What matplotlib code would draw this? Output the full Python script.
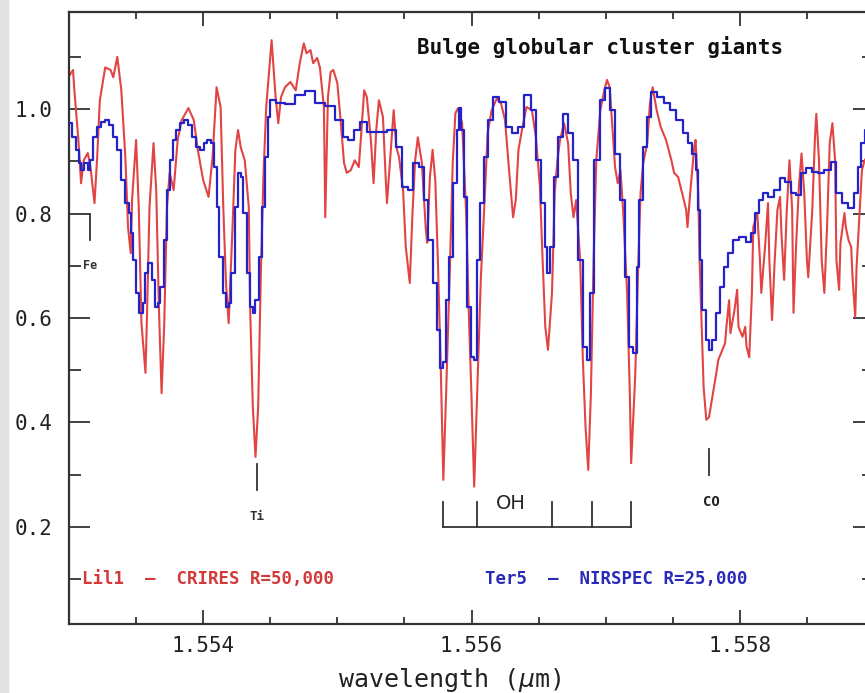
import matplotlib
matplotlib.use("Agg")
import matplotlib.pyplot as plt
from matplotlib.ticker import MultipleLocator, FormatStrFormatter
from matplotlib.patches import Rectangle

# Lil1 - CRIRES spectrum
red_wl = [1.55300, 1.55303, 1.55304, 1.55307, 1.55309, 1.55311, 1.55314, 1.55316, 1.55319, 1.55321,
          1.55323, 1.55327, 1.55331, 1.55333, 1.55336, 1.55339, 1.55342, 1.55344, 1.55346, 1.55347,
          1.55350, 1.55352, 1.55354, 1.55357, 1.55358, 1.55360, 1.55363, 1.55365, 1.55367, 1.55369,
          1.55371, 1.55373, 1.55375, 1.55378, 1.55381, 1.55384, 1.55389, 1.55393, 1.55396, 1.55400,
          1.55404, 1.55407, 1.55410, 1.55413, 1.55415, 1.55417, 1.55419, 1.55422, 1.55424, 1.55426,
          1.55428, 1.55431, 1.55434, 1.55435, 1.55437, 1.55439, 1.55441, 1.55443, 1.55445, 1.55447,
          1.55451, 1.55454, 1.55456, 1.55458, 1.55461, 1.55465, 1.55469, 1.55472, 1.55475, 1.55477,
          1.55480, 1.55482, 1.55485, 1.55487, 1.55490, 1.55491, 1.55493, 1.55495, 1.55497, 1.55500,
          1.55502, 1.55505, 1.55507, 1.55510, 1.55513, 1.55516, 1.55518, 1.55520, 1.55522, 1.55525,
          1.55527, 1.55529, 1.55531, 1.55534, 1.55536, 1.55537, 1.55540, 1.55542, 1.55544, 1.55546,
          1.55549, 1.55551, 1.55554, 1.55556, 1.55558, 1.55560, 1.55563, 1.55566, 1.55567, 1.55569,
          1.55571, 1.55573, 1.55575, 1.55577, 1.55579, 1.55581, 1.55584, 1.55586, 1.55588, 1.55590,
          1.55593, 1.55596, 1.55598, 1.55600, 1.55602, 1.55605, 1.55607, 1.55610, 1.55612, 1.55615,
          1.55619, 1.55622, 1.55625, 1.55628, 1.55631, 1.55633, 1.55635, 1.55638, 1.55641, 1.55645,
          1.55648, 1.55651, 1.55653, 1.55655, 1.55657, 1.55660, 1.55662, 1.55664, 1.55666, 1.55669,
          1.55672, 1.55674, 1.55676, 1.55678, 1.55681, 1.55683, 1.55685, 1.55687, 1.55689, 1.55691,
          1.55693, 1.55696, 1.55699, 1.55701, 1.55703, 1.55705, 1.55707, 1.55709, 1.55711, 1.55713,
          1.55716, 1.55718, 1.55719, 1.55722, 1.55724, 1.55726, 1.55728, 1.55731, 1.55733, 1.55735,
          1.55738, 1.55741, 1.55745, 1.55749, 1.55751, 1.55754, 1.55757, 1.55760, 1.55761, 1.55763,
          1.55766, 1.55767, 1.55769, 1.55770, 1.55772, 1.55773, 1.55775, 1.55777, 1.55780, 1.55782,
          1.55784, 1.55787, 1.55789, 1.55790, 1.55792, 1.55793, 1.55796, 1.55798, 1.55799, 1.55802,
          1.55804, 1.55805, 1.55807, 1.55809, 1.55810, 1.55813, 1.55815, 1.55816, 1.55819, 1.55821,
          1.55822, 1.55824, 1.55826, 1.55828, 1.55830, 1.55831, 1.55833, 1.55835, 1.55837, 1.55839,
          1.55840, 1.55842, 1.55844, 1.55846, 1.55848, 1.55850, 1.55851, 1.55854, 1.55856, 1.55857,
          1.55859, 1.55861, 1.55863, 1.55865, 1.55867, 1.55869, 1.55871, 1.55872, 1.55874, 1.55875,
          1.55878, 1.55879, 1.55881, 1.55883, 1.55884, 1.55886, 1.55887, 1.55890, 1.55891, 1.55893,
          1.55898, 1.55901]
red_flux = [1.063, 1.075, 1.036, 0.941, 0.858, 0.902, 0.916, 0.889, 0.820, 0.908,
            1.017, 1.080, 1.075, 1.061, 1.100, 1.036, 0.908, 0.774, 0.724, 0.826,
            0.941, 0.812, 0.590, 0.495, 0.590, 0.812, 0.935, 0.845, 0.621, 0.456,
            0.590, 0.812, 0.878, 0.845, 0.941, 0.979, 1.002, 0.979, 0.922, 0.864,
            0.832, 0.908, 1.042, 1.004, 0.812, 0.667, 0.590, 0.782, 0.922, 0.960,
            0.927, 0.902, 0.812, 0.621, 0.430, 0.334, 0.430, 0.686, 0.878, 1.004,
            1.132, 1.023, 0.973, 1.023, 1.042, 1.052, 1.036, 1.088, 1.126, 1.107,
            1.113, 1.088, 1.098, 1.080, 1.004, 0.793, 1.023, 1.071, 1.075, 1.050,
            0.992, 0.897, 0.878, 0.883, 0.902, 0.889, 0.960, 1.036, 1.023, 0.941,
            0.858, 0.960, 1.017, 0.985, 0.870, 0.820, 0.927, 0.998, 0.927, 0.908,
            0.845, 0.736, 0.667, 0.801, 0.902, 0.946, 0.897, 0.768, 0.744, 0.870,
            0.922, 0.864, 0.705, 0.514, 0.290, 0.449, 0.705, 0.897, 0.992, 1.002,
            0.973, 0.801, 0.610, 0.449, 0.277, 0.520, 0.678, 0.839, 0.954, 0.998,
            1.021, 1.011, 0.979, 0.883, 0.793, 0.826, 0.922, 0.966, 1.004, 0.998,
            0.946, 0.851, 0.711, 0.583, 0.539, 0.648, 0.839, 0.902, 0.941, 0.973,
            0.935, 0.839, 0.793, 0.826, 0.711, 0.520, 0.391, 0.309, 0.456, 0.711,
            0.902, 0.998, 1.036, 1.056, 1.042, 0.966, 0.889, 0.858, 0.883, 0.807,
            0.648, 0.456, 0.322, 0.487, 0.678, 0.839, 0.897, 0.935, 1.011, 1.042,
            0.998, 0.966, 0.941, 0.902, 0.878, 0.870, 0.839, 0.807, 0.774, 0.839,
            0.927, 0.941, 0.839, 0.711, 0.552, 0.468, 0.405, 0.410, 0.456, 0.487,
            0.520, 0.539, 0.552, 0.583, 0.634, 0.571, 0.615, 0.654, 0.583, 0.564,
            0.583, 0.545, 0.525, 0.648, 0.774, 0.801, 0.711, 0.648, 0.743, 0.820,
            0.711, 0.596, 0.711, 0.807, 0.832, 0.763, 0.673, 0.807, 0.902, 0.807,
            0.610, 0.743, 0.851, 0.915, 0.839, 0.711, 0.678, 0.807, 0.946, 0.991,
            0.902, 0.711, 0.648, 0.774, 0.935, 0.973, 0.902, 0.711, 0.654, 0.743,
            0.801, 0.774, 0.749, 0.736, 0.678, 0.602, 0.697, 0.839, 0.883, 0.902,
            0.921, 0.921]

# Ter5 - NIRSPEC spectrum (lower resolution, drawn as steps)
blue_wl = [1.55300, 1.55304, 1.55307, 1.55308, 1.55310, 1.55313, 1.55315, 1.55317, 1.55319, 1.55322,
           1.55325, 1.55328, 1.55331, 1.55334, 1.55337, 1.55340, 1.55343, 1.55346, 1.55347, 1.55349,
           1.55351, 1.55354, 1.55356, 1.55358, 1.55360, 1.55363, 1.55365, 1.55367, 1.55369, 1.55372,
           1.55374, 1.55376, 1.55379, 1.55381, 1.55384, 1.55387, 1.55390, 1.55393, 1.55396, 1.55399,
           1.55402, 1.55404, 1.55407, 1.55409, 1.55411, 1.55413, 1.55416, 1.55418, 1.55420, 1.55422,
           1.55425, 1.55427, 1.55429, 1.55431, 1.55434, 1.55436, 1.55438, 1.55440, 1.55443, 1.55445,
           1.55447, 1.55449, 1.55451, 1.55457, 1.55465, 1.55472, 1.55480, 1.55487, 1.55495, 1.55502,
           1.55506, 1.55510, 1.55515, 1.55519, 1.55525, 1.55532, 1.55542, 1.55546, 1.55551, 1.55554,
           1.55559, 1.55563, 1.55566, 1.55569, 1.55573, 1.55575, 1.55578, 1.55580, 1.55582, 1.55584,
           1.55588, 1.55590, 1.55591, 1.55593, 1.55596, 1.55598, 1.55601, 1.55603, 1.55605, 1.55608,
           1.55610, 1.55614, 1.55618, 1.55623, 1.55628, 1.55633, 1.55637, 1.55642, 1.55646, 1.55650,
           1.55653, 1.55656, 1.55657, 1.55660, 1.55663, 1.55666, 1.55670, 1.55674, 1.55678, 1.55681,
           1.55685, 1.55687, 1.55690, 1.55693, 1.55698, 1.55701, 1.55705, 1.55709, 1.55713, 1.55716,
           1.55719, 1.55722, 1.55724, 1.55726, 1.55729, 1.55732, 1.55736, 1.55741, 1.55746, 1.55750,
           1.55755, 1.55760, 1.55763, 1.55766, 1.55768, 1.55769, 1.55771, 1.55773, 1.55776, 1.55778,
           1.55781, 1.55784, 1.55786, 1.55790, 1.55793, 1.55797, 1.55802, 1.55807, 1.55810, 1.55813,
           1.55816, 1.55819, 1.55823, 1.55828, 1.55832, 1.55836, 1.55840, 1.55843, 1.55848, 1.55851,
           1.55857, 1.55860, 1.55866, 1.55870, 1.55874, 1.55878, 1.55883, 1.55887, 1.55889, 1.55892,
           1.55894, 1.55901]
blue_flux = [0.973, 0.946, 0.922, 0.897, 0.883, 0.897, 0.883, 0.902, 0.946, 0.966,
             0.975, 0.979, 0.969, 0.946, 0.922, 0.864, 0.820, 0.801, 0.763, 0.711,
             0.648, 0.610, 0.629, 0.686, 0.705, 0.673, 0.621, 0.629, 0.659, 0.749,
             0.845, 0.902, 0.941, 0.960, 0.973, 0.979, 0.969, 0.946, 0.927, 0.922,
             0.935, 0.941, 0.935, 0.889, 0.812, 0.717, 0.648, 0.621, 0.629, 0.686,
             0.812, 0.878, 0.870, 0.801, 0.686, 0.621, 0.610, 0.634, 0.717, 0.812,
             0.908, 0.985, 1.017, 1.011, 1.010, 1.027, 1.034, 1.011, 1.006, 0.979,
             0.946, 0.941, 0.960, 0.975, 0.956, 0.956, 0.960, 0.927, 0.851, 0.845,
             0.897, 0.889, 0.826, 0.749, 0.667, 0.577, 0.504, 0.516, 0.634, 0.717,
             0.858, 0.960, 1.002, 0.960, 0.832, 0.621, 0.525, 0.520, 0.711, 0.820,
             0.908, 0.979, 1.023, 1.013, 0.966, 0.954, 0.966, 1.027, 0.998, 0.902,
             0.820, 0.736, 0.686, 0.736, 0.870, 0.946, 0.991, 0.954, 0.902, 0.711,
             0.545, 0.520, 0.648, 0.902, 1.017, 1.040, 0.998, 0.915, 0.826, 0.678,
             0.545, 0.533, 0.697, 0.826, 0.927, 0.985, 1.033, 1.023, 1.011, 0.998,
             0.979, 0.954, 0.935, 0.915, 0.883, 0.807, 0.711, 0.615, 0.558, 0.539,
             0.558, 0.610, 0.659, 0.697, 0.724, 0.749, 0.755, 0.745, 0.763, 0.801,
             0.826, 0.839, 0.832, 0.845, 0.868, 0.860, 0.839, 0.835, 0.878, 0.887,
             0.880, 0.878, 0.883, 0.899, 0.839, 0.820, 0.810, 0.839, 0.889, 0.935,
             0.960, 0.979]

# line identifications
oh_lines = [1.55579, 1.55604, 1.55660, 1.55690, 1.55719]
ti_line = 1.55440
co_line = 1.55777
fe_line = 1.55316

red_col = '#e24444'
blue_col = '#2323c8'
mono = 'DejaVu Sans Mono'

fig = plt.figure(figsize=(8.65, 6.93), dpi=100)
fig.patches.append(Rectangle((0, 0), 8 / 865, 1, transform=fig.transFigure,
                             color='#e2e2e2', zorder=0))
# right edge of the frame sits just outside the picture, as in the original
ax = fig.add_axes([69 / 865, 69 / 693, 805 / 865, 612 / 693])

ax.plot(red_wl, red_flux, color=red_col, lw=1.5, zorder=2)
ax.plot(blue_wl, blue_flux, color=blue_col, lw=1.6, drawstyle='steps-mid', zorder=3)

ax.set_xlim(1.553, 1.559)
ax.set_ylim(0.014, 1.186)

ax.xaxis.set_major_locator(MultipleLocator(0.002))
ax.xaxis.set_minor_locator(MultipleLocator(0.0005))
ax.yaxis.set_major_locator(MultipleLocator(0.2))
ax.yaxis.set_minor_locator(MultipleLocator(0.1))
ax.xaxis.set_major_formatter(FormatStrFormatter('%.3f'))
ax.yaxis.set_major_formatter(FormatStrFormatter('%.1f'))

ax.tick_params(axis='both', which='both', direction='in', top=True, right=True,
               color='#333333', width=1.3, labelcolor='#222222')
ax.tick_params(axis='x', which='major', length=10, pad=9, labelsize=15)
ax.tick_params(axis='x', which='minor', length=5)
ax.tick_params(axis='y', which='major', length=15, pad=12, labelsize=15)
ax.tick_params(axis='y', which='minor', length=8.5)
for lab in ax.get_xticklabels() + ax.get_yticklabels():
    lab.set_family(mono)
for sp in ax.spines.values():
    sp.set_linewidth(1.6)
    sp.set_color('#333333')

# x label centred on the visible part of the plot
fig.text(450 / 865, 6 / 693, r'wavelength ($\mu$m)', ha='center', va='baseline',
         fontsize=18, family=mono, color='#222222')

ax.text(1.55696, 1.119, 'Bulge globular cluster giants', ha='center', va='center',
        fontsize=15, family=mono, weight='bold', color='#111111')

# legend-like labels
ax.text(1.55310, 0.1, 'Lil1  \u2013  CRIRES R=50,000', ha='left', va='center',
        fontsize=12.5, family=mono, weight='bold', color='#d23a3a')
ax.text(1.55610, 0.1, 'Ter5  \u2013  NIRSPEC R=25,000', ha='left', va='center',
        fontsize=12.5, family=mono, weight='bold', color='#2a2ab8')

# Fe
ax.plot([fe_line, fe_line], [0.75, 0.80], color='#333333', lw=1.3)
ax.text(fe_line, 0.70, 'Fe', ha='center', va='center', fontsize=8.5,
        family=mono, weight='bold', color='#333333')
# Ti
ax.plot([ti_line, ti_line], [0.27, 0.32], color='#333333', lw=1.3)
ax.text(ti_line, 0.22, 'Ti', ha='center', va='center', fontsize=9,
        family=mono, weight='bold', color='#333333')
# CO
ax.plot([co_line, co_line], [0.30, 0.35], color='#333333', lw=1.3)
ax.text(co_line + 0.00002, 0.248, 'CO', ha='center', va='center', fontsize=10,
        family=mono, weight='bold', color='#222222')
# OH bracket
ax.plot([oh_lines[0], oh_lines[-1]], [0.2, 0.2], color='#333333', lw=1.3)
for w in oh_lines:
    ax.plot([w, w], [0.2, 0.248], color='#333333', lw=1.3)
ax.text(1.55629, 0.245, 'OH', ha='center', va='center', fontsize=14,
        family='DejaVu Sans', color='#222222')

fig.savefig('out.png', dpi=100)
